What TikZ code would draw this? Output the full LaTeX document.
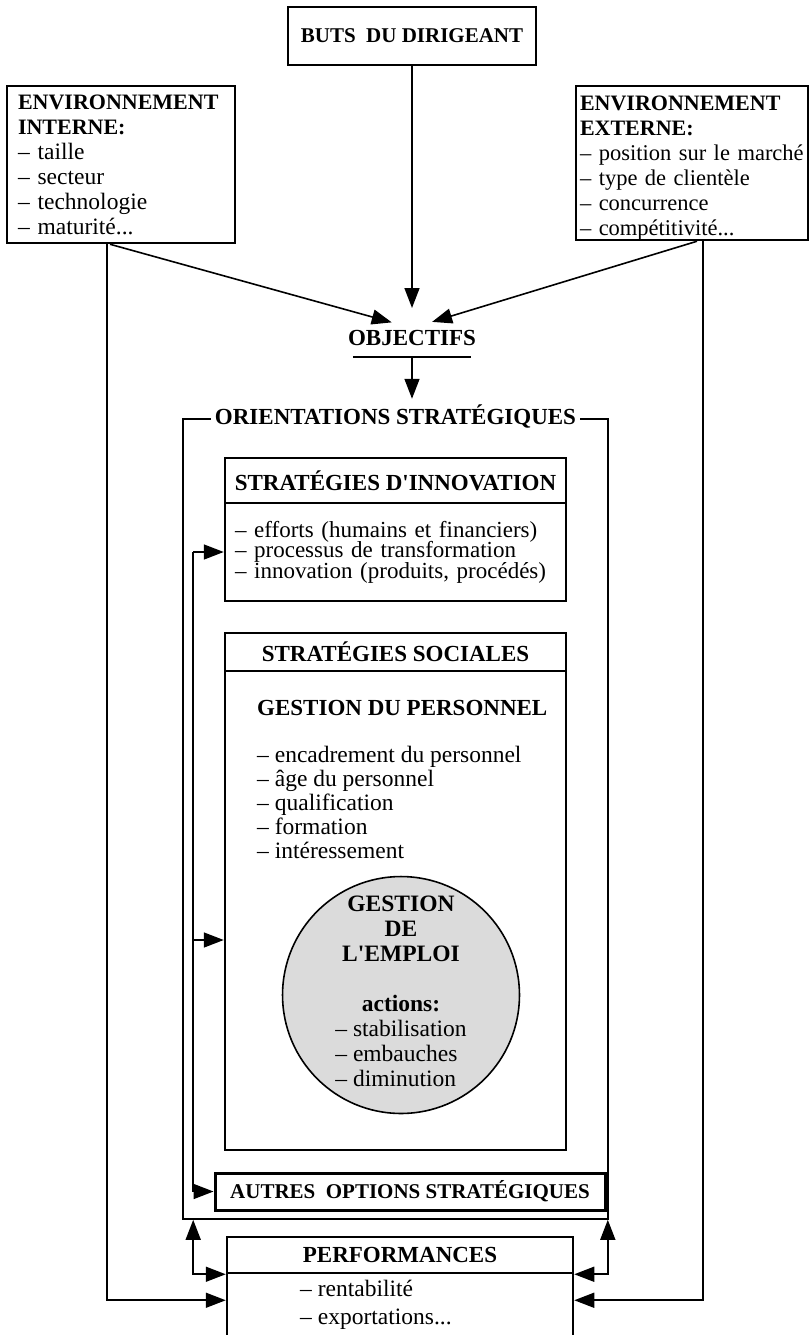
\documentclass[tikz,border=0pt]{standalone}
\usepackage{fontspec}
\setmainfont{Liberation Serif}
\usetikzlibrary{calc}
\usetikzlibrary{arrows.meta}

\newcommand{\titre}{\fontsize{23}{25}\selectfont\bfseries}
\newcommand{\corps}{\fontsize{23.5}{25}\selectfont}
\newcommand{\serre}{\fontsize{23}{20.5}\selectfont\lineskiplimit-20pt\relax}

\begin{document}
\begin{tikzpicture}[x=1pt, y=-1pt,
		boite/.style={draw, line width=2.5pt, inner sep=0pt},
		arr/.style={line width=1.6pt, -{Triangle[length=20pt, width=15pt]}},
		biarr/.style={line width=1.6pt, {Triangle[length=20pt, width=15pt]}-{Triangle[length=20pt, width=15pt]}}]
		\useasboundingbox (0,0) rectangle (810,1335);

		% en haut
		\node [boite, minimum width=248pt, minimum height=58pt, font=\fontsize{21}{25}\selectfont\bfseries] (buts) at (412,36) {BUTS\ \ DU DIRIGEANT};
		\node [boite, minimum width=228pt, minimum height=157pt, inner xsep=11pt, text width=206pt, align=left, font=\corps] (envint) at (121,164.5)
			{{\fontsize{22}{25}\selectfont\bfseries ENVIRONNEMENT\\INTERNE:}\\– taille\\– secteur\\– technologie\\– maturité...};
		\node [boite, minimum width=232pt, minimum height=154pt, inner xsep=4pt, text width=224pt, align=left, font=\fontsize{22.5}{25}\selectfont] (envext) at (692,163)
			{{\fontsize{22}{25}\selectfont\bfseries\rule{0pt}{24pt}ENVIRONNEMENT\\EXTERNE:}\\\mbox{– position sur le marché}\\– type de clientèle\\– concurrence\\– compétitivité...};

		\node [anchor=base, inner sep=0pt, font=\titre] (objectifs) at (412,345.5) {OBJECTIFS};
		\draw [line width=1.6pt] ([shift={(5pt,-11.5pt)}]objectifs.base west) -- ([shift={(-5pt,-11.5pt)}]objectifs.base east);
		\coordinate (hub) at (412,328);
		\draw [arr, shorten >=21pt] ([xshift=-11pt]envint.south) -- (hub);
		\draw [arr, shorten >=21pt] ([xshift=5pt]envext.south) -- (hub);
		\draw [arr] (buts.south) -- ([yshift=20pt]hub);

		% orientations strategiques
		\node [draw, line width=1.6pt, minimum width=425pt, minimum height=800pt] (cadre) at (395.5,819) {};
		\node [anchor=base, fill=white, inner xsep=4pt, inner ysep=6pt, font=\titre] (orient) at ([yshift=-6.5pt]cadre.north) {ORIENTATIONS STRATÉGIQUES};
		\draw [arr] ([yshift=-11.5pt]objectifs.base) -- (objectifs.base |- orient.north);

		\node [boite, minimum width=341pt, minimum height=45pt, font=\titre] (innotete) at (395.5,480.5) {STRATÉGIES D\textquotesingle INNOVATION};
		\node [boite, minimum width=341pt, minimum height=98pt, inner xsep=10pt, text width=321pt, align=left, font=\serre] (innocorps) at (395.5,552)
			{– efforts (humains et financiers)\\– processus de transformation\\– innovation (produits, procédés)};

		\node [boite, minimum width=341pt, minimum height=38pt, font=\titre] (sstete) at (395.5,652) {STRATÉGIES SOCIALES};
		\node [boite, minimum width=341pt, minimum height=479pt] (sscorps) at (395.5,910.5) {};
		\node [anchor=base west, inner sep=0pt, font=\titre] (gestpers) at (257,715) {GESTION DU PERSONNEL};
		\node [anchor=north west, inner sep=0pt, align=left, font=\fontsize{23.5}{24}\selectfont] (perslist) at (257,745.5)
			{– encadrement du personnel\\– âge du personnel\\– qualification\\– formation\\– intéressement};
		\node [circle, draw, line width=1.6pt, fill=black!14, minimum size=230pt, inner sep=0pt, align=center, font=\corps] (emploi) at (401,995)
			{\textbf{GESTION}\\\textbf{DE}\\\textbf{L\textquotesingle EMPLOI}\\[25pt]\textbf{actions:}\\\begin{tabular}[t]{@{}l@{}}– stabilisation\\– embauches\\– diminution\end{tabular}};

		\node [boite, line width=3pt, minimum width=390pt, minimum height=37pt, font=\fontsize{21}{25}\selectfont\bfseries] (autres) at (410,1191.5) {AUTRES\ \ OPTIONS STRATÉGIQUES};

		% retours vers les strategies
		\coordinate (fb) at ([xshift=11pt]cadre.west);
		\coordinate (ssentree) at ([yshift=-29.5pt]sscorps.west);
		\draw [arr] (fb |- innocorps.west) -- (innocorps.west);
		\draw [arr] (fb |- innocorps.west) |- (autres.west);
		\draw [arr] (fb |- ssentree) -- (ssentree);

		% performances
		\node [boite, minimum width=346pt, minimum height=36pt, font=\titre] (perftete) at (400,1255) {PERFORMANCES};
		\node [boite, minimum width=346pt, minimum height=80pt] (perfcorps) at (400,1313) {};
		\node [anchor=north west, inner sep=0pt, align=left, font=\fontsize{23.5}{28}\selectfont] (perflist) at (300,1280) {– rentabilité\\– exportations...};

		\draw [arr] ([xshift=-14pt]envint.south) |- ([yshift=-26pt]perftete.south west);
		\draw [arr] ([xshift=11pt]envext.south) |- ([yshift=-26pt]perftete.south east);
		\draw [biarr] ([xshift=11pt]cadre.south west) |- (perftete.south west);
		\draw [biarr] ([xshift=-1pt]cadre.south east) |- (perftete.south east);
	\end{tikzpicture}
\end{document}
